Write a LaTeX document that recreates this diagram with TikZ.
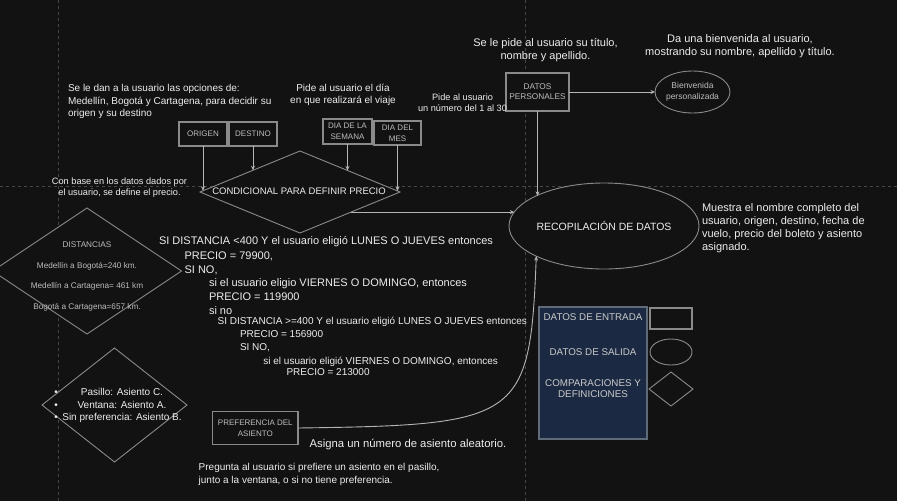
\documentclass[tikz,border=0pt]{standalone}
\usepackage{fontspec}
\setmainfont{Liberation Sans}
\usetikzlibrary{shapes.geometric,arrows.meta,calc}
\definecolor{bg}{HTML}{121212}
\definecolor{gridc}{HTML}{474747}
\definecolor{edgec}{HTML}{8A8A8A}
\definecolor{txt}{HTML}{EDEDED}
\definecolor{boxtxt}{HTML}{BDBDBD}
\definecolor{arrowc}{HTML}{B5B5B5}
\definecolor{legfill}{HTML}{1B2A42}
\definecolor{legedge}{HTML}{5F6B78}
\newcommand\fsz[2]{\fontsize{#1}{#2}\selectfont}
\begin{document}
\begin{tikzpicture}[x=1pt,y=-1pt,
  every node/.style={inner sep=0pt,outer sep=0pt},
  gridline/.style={draw=gridc,line width=0.8pt,dash pattern=on 3pt off 3pt},
  boxn/.style={draw=edgec,fill=bg,line width=1.2pt,text=boxtxt,align=center,font=\fsz{8}{11}},
  diam/.style={draw=edgec,fill=bg,line width=0.9pt,shape=diamond},
  ell/.style={draw=edgec,fill=bg,line width=0.9pt,shape=ellipse},
  conn/.style={draw=arrowc,line width=0.9pt,-{Stealth[length=4.5pt,width=4pt]}},
  note/.style={text=txt,align=center},
  lnote/.style={text=txt,align=left,anchor=west},
  ln/.style={text=txt,anchor=base west},
  intext/.style={text=boxtxt,align=center}
]
\fill[bg] (0,0) rectangle (897,501);
\useasboundingbox (0,0) rectangle (897,501);
% page grid
\draw[gridline] (58,0) -- (58,501);
\draw[gridline] (525,0) -- (525,501);
\draw[gridline] (0,186) -- (897,186);

% shapes
\node[diam,minimum width=200pt,minimum height=82pt] (cond) at (300,192) {};
\node[intext,text=txt,font=\fsz{9.5}{11}] (condt) at (299,191) {CONDICIONAL PARA DEFINIR PRECIO};

\node[boxn,minimum width=48pt,minimum height=24pt] (origen) at (203,134) {ORIGEN};
\node[boxn,minimum width=48pt,minimum height=24pt] (destino) at (253,134) {DESTINO};
\node[boxn,minimum width=49pt,minimum height=25pt] (semana) at (347.5,131.5) {DIA DE LA\\SEMANA};
\node[boxn,minimum width=47pt,minimum height=24pt] (mes) at (397.5,133) {DIA DEL\\MES};

\node[boxn,minimum width=63pt,minimum height=38pt,font=\fsz{8.3}{10}] (dp) at (537.5,92) {DATOS\\PERSONALES};
\node[ell,minimum width=75pt,minimum height=42pt] (bienv) at (692.5,92) {};
\node[intext,font=\fsz{8.5}{10.7}] (bienvt) at (692.5,91.5) {Bienvenida\\personalizada};

\node[ell,minimum width=190pt,minimum height=86pt] (rec) at (604,226) {};
\node[note,font=\fsz{10.5}{12}] (rect) at (604,226) {RECOPILACIÓN DE DATOS};

\node[diam,minimum width=189pt,minimum height=126pt] (dist) at (87,271) {};
\node[intext,font=\fsz{8.2}{20.5}] (distt) at (87,276.5) {DISTANCIAS\\Medellín a Bogotá=240 km.\\Medellín a Cartagena= 461 km\\Bogotá a Cartagena=657 km.};

\node[diam,minimum width=145pt,minimum height=114pt] (seat) at (114.5,405) {};
\node[note,font=\fsz{10}{12.4}] (seatt) at (122,405.8) {Pasillo: Asiento C.\\Ventana: Asiento A.\\Sin preferencia: Asiento B.};
\node[note,font=\fsz{10}{12.4}] (bul) at (56,405.8) {•\\•\\•};

\node[boxn,minimum width=85.5pt,minimum height=32.7pt,font=\fsz{8}{10.5}] (pref) at (255.3,428) {PREFERENCIA DEL\\ASIENTO};

% legend
\node[draw=legedge,fill=legfill,line width=1.2pt,minimum width=108pt,minimum height=132pt] (leg) at (593,373) {};
\node[note,text=boxtxt!80!white,font=\fsz{9.8}{11}] (legin) at (593,317) {DATOS DE ENTRADA};
\node[note,text=boxtxt!80!white,font=\fsz{9.8}{11}] (legout) at (593,352) {DATOS DE SALIDA};
\node[note,text=boxtxt!80!white,font=\fsz{9.8}{11}] (legcmp) at (593,388.5) {COMPARACIONES Y\\DEFINICIONES};
\node[draw=edgec,line width=1.2pt,minimum width=42pt,minimum height=21pt] (legrect) at (671,318.5) {};
\node[ell,minimum width=42pt,minimum height=26pt] (legell) at (671,352) {};
\node[diam,minimum width=44pt,minimum height=34pt] (legdia) at (671,389) {};

% annotations
\node[lnote,font=\fsz{10}{12.5}] (a1) at (68,101.5) {Se le dan a la usuario las opciones de:\\Medellín, Bogotá y Cartagena, para decidir su\\origen y su destino};
\node[note,font=\fsz{10}{12}] (a2) at (343,95) {Pide al usuario el día\\en que realizará el viaje};
\node[note,font=\fsz{9.2}{11}] (a3) at (462.5,102.5) {Pide al usuario\\un número del 1 al 30};
\node[note,font=\fsz{11}{13.5}] (a4) at (545.5,50) {Se le pide al usuario su título,\\nombre y apellido.};
\node[note,font=\fsz{11}{13}] (a5) at (740,46.5) {Da una bienvenida al usuario,\\mostrando su nombre, apellido y título.};
\node[lnote,font=\fsz{11}{13}] (a6) at (702,228.5) {Muestra el nombre completo del\\usuario, origen, destino, fecha de\\vuelo, precio del boleto y asiento\\asignado.};
\node[note,font=\fsz{9.2}{11}] (a7) at (119.5,187.5) {Con base en los datos dados por\\el usuario, se define el precio.};
\node[note,font=\fsz{11.3}{13}] (a8) at (408,444.3) {Asigna un número de asiento aleatorio.};
\node[lnote,font=\fsz{10}{13}] (a9) at (198.7,474.5) {Pregunta al usuario si prefiere un asiento en el pasillo,\\junto a la ventana, o si no tiene preferencia.};

% condition block
\node[ln,font=\fsz{11}{13}] (s1) at (159,244.6) {SI DISTANCIA <400 Y el usuario eligió LUNES O JUEVES entonces};
\node[ln,font=\fsz{11}{13}] (s2) at (184.6,259) {PRECIO = 79900,};
\node[ln,font=\fsz{11}{13}] (s3) at (184.6,273) {SI NO,};
\node[ln,font=\fsz{11}{13}] (s4) at (209,286.6) {si el usuario eligio VIERNES O DOMINGO, entonces};
\node[ln,font=\fsz{11}{13}] (s5) at (209,300) {PRECIO = 119900};
\node[ln,font=\fsz{11}{13}] (s6) at (209,314) {si no};
\node[ln,font=\fsz{10}{12}] (s7) at (217.6,324.6) {SI DISTANCIA >=400 Y el usuario eligió LUNES O JUEVES entonces};
\node[ln,font=\fsz{10}{12}] (s8) at (240,337.2) {PRECIO = 156900};
\node[ln,font=\fsz{10}{12}] (s9) at (240,350.6) {SI NO,};
\node[ln,font=\fsz{10}{12}] (s10) at (263.4,364.1) {si el usuario eligió VIERNES O DOMINGO, entonces};
\node[ln,font=\fsz{10}{12}] (s11) at (286.5,375.6) {PRECIO = 213000};

% connectors
\coordinate (inO) at ($(cond.west)!0.03!(cond.north)$);
\coordinate (inD) at ($(cond.west)!0.53!(cond.north)$);
\coordinate (inS) at ($(cond.north)!0.475!(cond.east)$);
\coordinate (inM) at ($(cond.north)!0.975!(cond.east)$);
\coordinate (condout) at ($(cond.east)!0.49!(cond.south)$);
\draw[conn] (origen.south) -- (origen.south |- inO);
\draw[conn] (destino.south) -- (destino.south |- inD);
\draw[conn] (semana.south) -- (semana.south |- inS);
\draw[conn] (mes.south) -- (mes.south |- inM);
\draw[conn] (condout) -- (condout -| rec.171);
\draw[conn] (dp.south) -- (dp.south |- rec.156);
\draw[conn] (dp.east) -- (bienv.west);
\draw[conn] (pref.east) .. controls (520,425) and (530,420) .. (rec.204);
\end{tikzpicture}
\end{document}
